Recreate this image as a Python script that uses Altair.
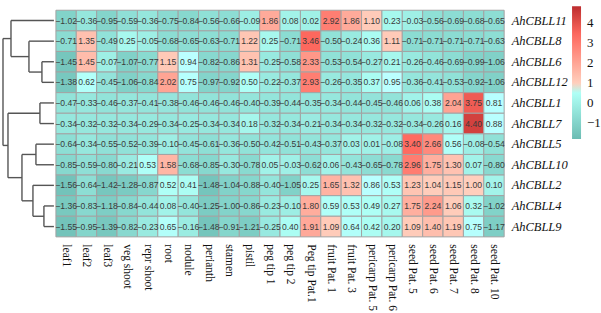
import altair as alt
import pandas as pd

tissues = ["leaf1", "leaf2", "leaf3", "veg shoot", "repr shoot", "root", "nodule",
           "perianth", "stamen", "pistil", "peg tip 1", "peg tip 2", "Peg tip Pat.1",
           "fruit Pat. 1", "fruit Pat. 3", "pericarp Pat. 5", "pericarp Pat. 6",
           "seed Pat. 5", "seed Pat. 6", "seed Pat. 7", "seed Pat. 8", "seed Pat. 10"]

genes = ["AhCBLL11", "AhCBLL8", "AhCBLL6", "AhCBLL12", "AhCBLL1", "AhCBLL7",
         "AhCBLL5", "AhCBLL10", "AhCBLL2", "AhCBLL4", "AhCBLL9"]

AhCBLL11 = [-1.02, -0.36, -0.95, -0.59, -0.36, -0.75, -0.84, -0.56, -0.66, -0.09, 1.86,
            0.08, 0.02, 2.92, 1.86, 1.10, 0.23, -0.03, -0.56, -0.69, -0.68, -0.65]
AhCBLL8 = [-0.71, 1.35, -0.49, 0.25, -0.05, -0.68, -0.65, -0.63, -0.71, 1.22, 0.25,
           -0.71, 3.46, -0.50, -0.24, 0.36, 1.11, -0.71, -0.71, -0.71, -0.71, -0.63]
AhCBLL6 = [-1.45, 1.45, -0.07, -1.07, -0.77, 1.15, 0.94, -0.82, -0.86, 1.31, -0.25,
           -0.58, 2.33, -0.53, -0.54, -0.27, 0.21, -0.26, -0.46, -0.69, -0.99, -1.06]
AhCBLL12 = [-1.38, 0.62, -0.45, -1.06, -0.84, 2.02, 0.75, -0.97, -0.92, 0.50, -0.22,
            -0.37, 2.93, -0.26, -0.35, 0.37, 0.95, -0.36, -0.41, -0.53, -0.92, -1.06]
AhCBLL1 = [-0.47, -0.33, -0.46, -0.37, -0.41, -0.38, -0.46, -0.46, -0.46, -0.40, -0.39,
           -0.44, -0.35, -0.34, -0.44, -0.45, -0.46, 0.06, 0.38, 2.04, 3.75, 0.81]
AhCBLL7 = [-0.34, -0.32, -0.32, -0.34, -0.29, -0.34, -0.25, -0.34, -0.34, 0.18, -0.32,
           -0.34, -0.21, -0.34, -0.34, -0.32, -0.32, -0.34, -0.26, 0.16, 4.40, 0.88]
AhCBLL5 = [-0.64, -0.34, -0.55, -0.52, -0.39, -0.10, -0.45, -0.61, -0.36, -0.50, -0.42,
           -0.51, -0.43, -0.37, 0.03, 0.01, -0.08, 3.40, 2.66, 0.56, -0.08, -0.54]
AhCBLL10 = [-0.85, -0.59, -0.80, -0.21, 0.53, 1.58, -0.68, -0.85, -0.30, -0.78, 0.05,
            -0.03, -0.62, 0.06, -0.43, -0.65, -0.78, 2.96, 1.75, 1.30, 0.07, -0.80]
AhCBLL2 = [-1.56, -0.64, -1.42, -1.28, -0.87, 0.52, 0.41, -1.48, -1.04, -0.88, -0.40,
           -1.05, 0.25, 1.65, 1.32, 0.86, 0.53, 1.23, 1.04, 1.15, 1.00, 0.10]
AhCBLL4 = [-1.36, -0.83, -1.18, -0.84, -0.44, 0.08, -0.40, -1.25, -1.00, -0.86, -0.23,
           -0.10, 1.80, 0.59, 0.53, 0.49, 0.27, 1.75, 2.24, 1.06, 0.32, -1.02]
AhCBLL9 = [-1.55, -0.95, -1.39, -0.82, -0.23, 0.65, -0.16, -1.48, -0.91, -1.21, -0.25,
           0.40, 1.91, 1.09, 0.64, 0.42, 0.20, 1.09, 1.40, 1.19, 0.75, -1.17]

values_by_gene = [AhCBLL11, AhCBLL8, AhCBLL6, AhCBLL12, AhCBLL1, AhCBLL7,
                  AhCBLL5, AhCBLL10, AhCBLL2, AhCBLL4, AhCBLL9]

# hierarchical clustering (dendrogram) merges: left child, right child, merge height
merge_left = ["AhCBLL6", "AhCBLL8", "AhCBLL11", "AhCBLL1", "AhCBLL5", "AhCBLL4",
              "AhCBLL2", "m4", "m3", "m2"]
merge_right = ["AhCBLL12", "m0", "m1", "AhCBLL7", "AhCBLL10", "AhCBLL9",
               "m5", "m6", "m7", "m8"]
merge_height = [12, 25, 43, 14, 18, 10, 21, 32, 46, 51]

# ---- heatmap table
rows = []
for g, vals in zip(genes, values_by_gene):
    for t, v in zip(tissues, vals):
        rows.append({"gene": g, "tissue": t, "value": v})
heat_df = pd.DataFrame(rows)

# ---- dendrogram segments
pos = {g: i for i, g in enumerate(genes)}
hgt = {g: 0.0 for g in genes}
segs = []
for k, (a, b, h) in enumerate(zip(merge_left, merge_right, merge_height)):
    for c in (a, b):
        segs.append({"x": hgt[c], "x2": h, "y": pos[c], "y2": pos[c]})
    segs.append({"x": h, "x2": h, "y": pos[a], "y2": pos[b]})
    name = f"m{k}"
    pos[name] = (pos[a] + pos[b]) / 2
    hgt[name] = h
seg_df = pd.DataFrame(segs)

H = 227
dendro = alt.Chart(seg_df).mark_rule(color="#555555", strokeWidth=1.4).encode(
    x=alt.X("x:Q", scale=alt.Scale(domain=[52, 0], nice=False, zero=False), axis=None),
    x2="x2:Q",
    y=alt.Y("y:Q", scale=alt.Scale(domain=[-0.5, len(genes) - 0.5], reverse=True,
                                    nice=False, zero=False), axis=None),
    y2="y2:Q",
).properties(width=52, height=H)

color_scale = alt.Scale(domain=[-1.8, 1, 4.85], range=["#6cbcb3", "#ffffff", "#bd2c2f"])

base = alt.Chart(heat_df).encode(
    x=alt.X("tissue:N", sort=tissues,
            scale=alt.Scale(paddingInner=0, paddingOuter=0),
            axis=alt.Axis(title=None, orient="bottom", labelAngle=90, ticks=False,
                          domain=False, labelFont="Liberation Serif", labelFontSize=11.5,
                          labelColor="#111111", labelPadding=7, labelLimit=200)),
    y=alt.Y("gene:N", sort=genes,
            scale=alt.Scale(paddingInner=0, paddingOuter=0),
            axis=alt.Axis(title=None, orient="right", ticks=False, domain=False,
                          labelFont="Liberation Serif", labelFontStyle="italic",
                          labelFontSize=12.5, labelColor="#111111", labelPadding=7)),
)

cells = base.mark_rect(stroke="#a3a3a3", strokeWidth=1).encode(
    color=alt.Color("value:Q", scale=color_scale,
                    legend=alt.Legend(title=None, orient="none", legendX=571, legendY=-4,
                                      direction="vertical", gradientLength=133,
                                      gradientThickness=9, gradientStrokeWidth=0,
                                      values=[4, 3, 2, 1, 0, -1],
                                      labelFont="Liberation Serif", labelFontSize=13,
                                      labelColor="#111111", labelOffset=6))
)
labels = base.mark_text(font="Liberation Sans", fontSize=8.6, color="#3a3a3a").encode(
    text=alt.Text("value:Q", format=".2f")
)

heat = alt.layer(cells, labels).properties(width=449, height=H)

chart = alt.hconcat(dendro, heat, spacing=0).properties(
    padding={"left": 2, "top": 6, "right": 0, "bottom": 0}
).configure_view(stroke=None)

chart.save("out.html", embed_options={"renderer": "svg", "actions": False})
